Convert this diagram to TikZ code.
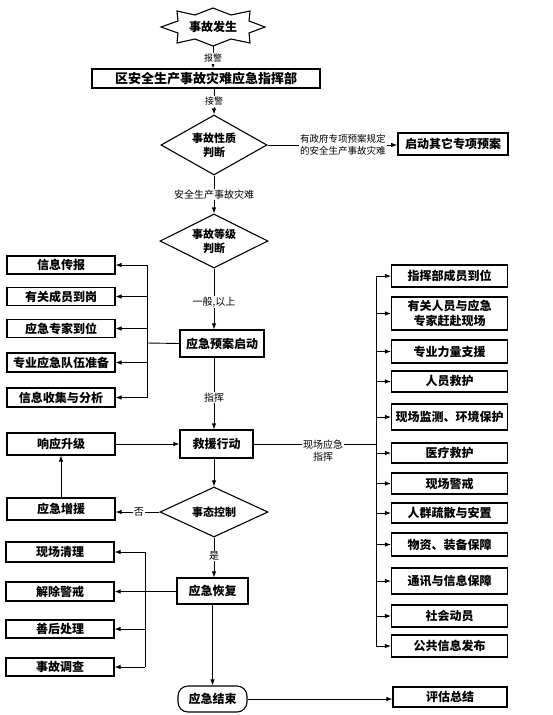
\documentclass[tikz,border=0pt]{standalone}
\usepackage{fontspec}
\setmainfont{Noto Sans CJK SC}
\usetikzlibrary{shapes.geometric,arrows.meta}
\begin{document}
\begin{tikzpicture}[x=1pt,y=-1pt,
  bx/.style={draw, line width=1.1pt, inner sep=0pt, font=\fontsize{12}{15}\selectfont\bfseries, align=center},
  dm/.style={draw, diamond, line width=1.1pt, inner sep=0pt, aspect=2, font=\fontsize{11}{14}\selectfont\bfseries, align=center},
  arr/.style={line width=0.9pt, -{Latex[length=6pt,width=4.5pt]}},
  ln/.style={line width=0.9pt},
  lbl/.style={fill=white, inner sep=1pt, font=\fontsize{10}{12}\selectfont, align=center}
]
\useasboundingbox[fill=white] (0,0) rectangle (553,715);

% start star
\node[inner sep=0pt, minimum width=104pt, minimum height=38pt, font=\fontsize{12}{14}\selectfont\bfseries] (st) at (213,27) {事故发生};
\draw[line width=1.1pt] (161,27) -- (178,21) -- (177,11) -- (195,15) -- (213,8) -- (231,15) -- (250,11) -- (249,21)
  -- (265,27) -- (249,33) -- (250,43) -- (231,39) -- (213,46) -- (195,39) -- (177,43) -- (178,33) -- cycle;

\node[bx, minimum width=228pt, minimum height=19pt, font=\fontsize{13}{15}\selectfont\bfseries] (hq) at (206,78.5) {区安全生产事故灾难应急指挥部};
\node[dm, minimum width=106pt, minimum height=60pt] (d1) at (214,145) {事故性质\\判断};
\node[bx, line width=1.6pt, minimum width=110pt, minimum height=22pt] (ot) at (453,144) {启动其它专项预案};
\node[dm, minimum width=108pt, minimum height=54pt] (d2) at (214,241) {事故等级\\判断};
\node[bx, minimum width=84pt, minimum height=27pt] (qd) at (222,343.5) {应急预案启动};
\node[bx, minimum width=73pt, minimum height=28pt] (jy) at (216.5,444) {救援行动};
\node[dm, minimum width=108pt, minimum height=50pt] (d3) at (214,512) {事态控制};
\node[bx, minimum width=71pt, minimum height=26pt] (hf) at (212.5,591) {应急恢复};
\node[bx, rounded corners=10pt, minimum width=69pt, minimum height=26pt] (js) at (212.5,699) {应急结束};
\node[bx, minimum width=114pt, minimum height=20pt] (pg) at (450,697) {评估总结};

% left top boxes
\node[bx, minimum width=108pt, minimum height=18pt] (l1) at (61,265) {信息传报};
\node[bx, minimum width=108pt, minimum height=18pt] (l2) at (61,296.5) {有关成员到岗};
\node[bx, minimum width=108pt, minimum height=18pt] (l3) at (61,328.5) {应急专家到位};
\node[bx, minimum width=108pt, minimum height=19pt] (l4) at (61,362.5) {专业应急队伍准备};
\node[bx, minimum width=108pt, minimum height=19pt] (l5) at (61,397.5) {信息收集与分析};

% left middle
\node[bx, minimum width=108pt, minimum height=22pt] (xy) at (61,444) {响应升级};
\node[bx, minimum width=108pt, minimum height=22pt] (zy) at (61,509) {应急增援};

% left bottom
\node[bx, minimum width=108pt, minimum height=20pt] (c1) at (60,552) {现场清理};
\node[bx, minimum width=108pt, minimum height=19pt] (c2) at (60,591.5) {解除警戒};
\node[bx, minimum width=108pt, minimum height=18pt] (c3) at (60,629) {善后处理};
\node[bx, minimum width=108pt, minimum height=18pt] (c4) at (60,667) {事故调查};

% right boxes
\node[bx, minimum width=116pt, minimum height=22pt] (r1) at (449.5,276) {指挥部成员到位};
\node[bx, minimum width=116pt, minimum height=33pt] (r2) at (449.5,313.5) {有关人员与应急\\专家赶赴现场};
\node[bx, minimum width=116pt, minimum height=23pt] (r3) at (449.5,351.5) {专业力量支援};
\node[bx, minimum width=116pt, minimum height=21pt] (r4) at (449.5,381.5) {人员救护};
\node[bx, minimum width=116pt, minimum height=26pt] (r5) at (449.5,417) {现场监测、环境保护};
\node[bx, minimum width=116pt, minimum height=20pt] (r6) at (449.5,453) {医疗救护};
\node[bx, minimum width=116pt, minimum height=21pt] (r7) at (449.5,483.5) {现场警戒};
\node[bx, minimum width=116pt, minimum height=20pt] (r8) at (449.5,513) {人群疏散与安置};
\node[bx, minimum width=116pt, minimum height=23pt] (r9) at (449.5,544.5) {物资、装备保障};
\node[bx, minimum width=116pt, minimum height=26pt] (r10) at (449.5,581) {通讯与信息保障};
\node[bx, minimum width=116pt, minimum height=22pt] (r11) at (449.5,616) {社会动员};
\node[bx, minimum width=116pt, minimum height=22pt] (r12) at (449.5,646) {公共信息发布};

% main flow
\draw[arr] (st.south) -- (st.south |- hq.north) node[lbl, pos=0.55, font=\fontsize{9}{11}\selectfont] {报警};
\draw[arr] (d1.north |- hq.south) -- (d1.north) node[lbl, pos=0.5, font=\fontsize{9}{11}\selectfont] {接警};
\draw[arr] (d1.east) -- (d1.east -| ot.west) node[lbl, pos=0.58, font=\fontsize{9.5}{12.5}\selectfont] {有政府专项预案规定\\的安全生产事故灾难};
\draw[arr] (d1.south) -- (d2.north) node[lbl, pos=0.5] {安全生产事故灾难};
\draw[arr] (d2.south) -- (d2.south |- qd.north) node[lbl, pos=0.55] {一般,以上};
\draw[arr] (d2.south |- qd.south) -- (d2.south |- jy.north) node[lbl, pos=0.56] {指挥};
\draw[arr] (d3.north |- jy.south) -- (d3.north);
\draw[arr] (d3.south) -- (d3.south |- hf.north) node[lbl, pos=0.46] {是};
\draw[arr] (d3.west) -- (d3.west -| zy.east) node[lbl, pos=0.47] {否};
\draw[arr] (zy.north) -- (xy.south);
\draw[arr] (xy.east) -- (xy.east -| jy.west);
\draw[arr] (hf.south) -- (hf.south |- js.north);
\draw[arr] (js.east) -- (js.east -| pg.west);

% left top bus
\coordinate (lb) at (147,343);
\draw[ln] (qd.west) -- (lb);
\draw[ln] (lb |- l1.east) -- (lb |- l5.east);
\foreach \i in {1,...,5} \draw[arr] (lb |- l\i.east) -- (l\i.east);

% left bottom bus
\coordinate (cb) at (145,591);
\draw[ln] (hf.west) -- (cb);
\draw[ln] (cb |- c1.east) -- (cb |- c4.east);
\foreach \i in {1,...,4} \draw[arr] (cb |- c\i.east) -- (c\i.east);

% right bus
\coordinate (rb) at (376,444);
\draw[ln] (jy.east) -- (rb);
\node[lbl] (lz) at (323,451) {现场应急\\指挥};
\draw[ln] (rb |- r1.west) -- (rb |- r12.west);
\foreach \i in {1,...,12} \draw[arr] (rb |- r\i.west) -- (r\i.west);
\end{tikzpicture}
\end{document}
